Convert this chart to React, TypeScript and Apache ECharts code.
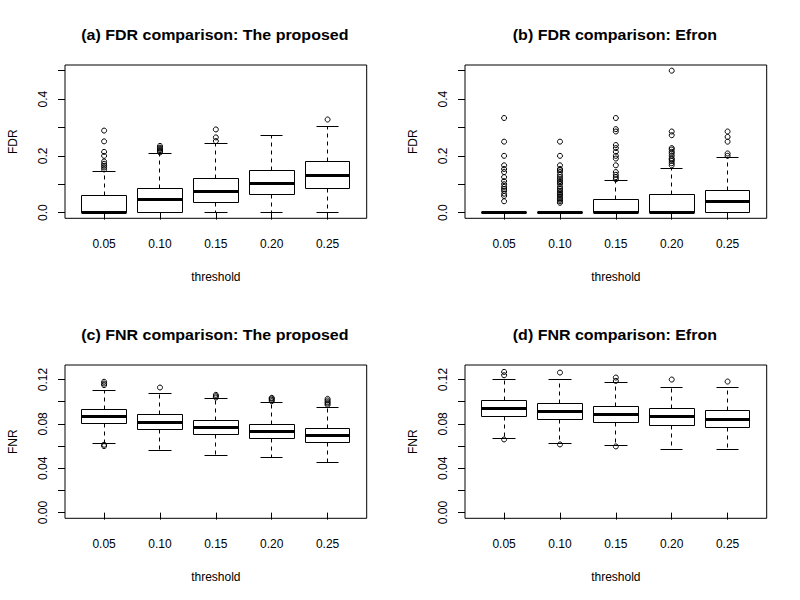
import React, { useEffect, useRef } from "react";
import * as echarts from "echarts";

// ---------- data ----------
const thresholds = ["0.05", "0.10", "0.15", "0.20", "0.25"];

// [lower whisker, Q1, median, Q3, upper whisker]
const fdrProposedStats = [
  [0, 0, 0, 0.06, 0.145],
  [0, 0, 0.047, 0.085, 0.208],
  [0, 0.035, 0.074, 0.12, 0.2435],
  [0, 0.0635, 0.102, 0.148, 0.272],
  [0, 0.085, 0.131, 0.18, 0.3035],
];
const fdrProposedOutliers = [
  [0.152, 0.159, 0.165, 0.172, 0.18, 0.2, 0.214, 0.251, 0.289],
  [0.212, 0.216, 0.22, 0.225, 0.229, 0.235],
  [0.252, 0.265, 0.293],
  [],
  [0.328],
];

const fdrEfronStats = [
  [0, 0, 0, 0, 0],
  [0, 0, 0, 0, 0],
  [0, 0, 0, 0.046, 0.113],
  [0, 0, 0, 0.0635, 0.156],
  [0, 0, 0.039, 0.078, 0.194],
];
const fdrEfronOutliers = [
  [0.04, 0.0588, 0.0667, 0.0769, 0.0833, 0.0909, 0.1, 0.1111, 0.125, 0.1429, 0.1538, 0.1667, 0.2, 0.25, 0.3333],
  [0.0345, 0.04, 0.0455, 0.05, 0.0556, 0.0625, 0.0667, 0.0714, 0.0769, 0.0833, 0.0909, 0.1, 0.1053, 0.1111,
    0.1176, 0.125, 0.1333, 0.1429, 0.15, 0.1538, 0.1667, 0.2, 0.25],
  [0.1176, 0.125, 0.1333, 0.1429, 0.1667, 0.1905, 0.2, 0.2143, 0.2273, 0.2381, 0.2857, 0.2941, 0.3333],
  [0.1667, 0.1739, 0.1818, 0.1875, 0.1905, 0.2, 0.2083, 0.2143, 0.2222, 0.2273, 0.2727, 0.2857, 0.5],
  [0.2, 0.2083, 0.25, 0.2667, 0.2857],
];

const fnrProposedStats = [
  [0.0624, 0.0804, 0.087, 0.093, 0.11],
  [0.0561, 0.075, 0.0813, 0.0885, 0.1074],
  [0.0516, 0.0705, 0.0768, 0.0831, 0.1029],
  [0.0498, 0.0669, 0.0732, 0.0795, 0.0993],
  [0.0453, 0.0633, 0.0696, 0.0759, 0.0948],
];
const fnrProposedOutliers = [
  [0.06, 0.0612, 0.115, 0.1164, 0.118],
  [0.1128],
  [0.1038, 0.105, 0.1062],
  [0.1005, 0.1017, 0.1029, 0.1035],
  [0.0972, 0.0984, 0.0996, 0.1011, 0.1026],
];

const fnrEfronStats = [
  [0.0669, 0.0867, 0.0939, 0.1011, 0.12],
  [0.0624, 0.084, 0.0912, 0.0984, 0.12],
  [0.0606, 0.0813, 0.0885, 0.0957, 0.1173],
  [0.057, 0.0786, 0.0867, 0.0939, 0.1128],
  [0.057, 0.0768, 0.084, 0.0921, 0.1128],
];
const fnrEfronOutliers = [
  [0.066, 0.1239, 0.1269],
  [0.0615, 0.1263],
  [0.0597, 0.1188, 0.1218],
  [0.12],
  [0.1182],
];

const titles = [
  "(a) FDR comparison: The proposed",
  "(b) FDR comparison: Efron",
  "(c) FNR comparison: The proposed",
  "(d) FNR comparison: Efron",
];
const yNames = ["FDR", "FDR", "FNR", "FNR"];
const xName = "threshold";

const fdrTicks = [0, 0.1, 0.2, 0.3, 0.4, 0.5];
const fdrLabels = [0, 0.2, 0.4];
const fnrTicks = [0, 0.02, 0.04, 0.06, 0.08, 0.1, 0.12];
const fnrLabels = [0, 0.04, 0.08, 0.12];

// ---------- layout ----------
const FONT = "'Liberation Sans', Arial, Helvetica, sans-serif";
const GRID_W = 301.7;
const GRID_H = 153.3;
const panelPos = [
  [65, 65],
  [465, 65],
  [65, 365],
  [465, 365],
];

const px = (v: number) => Math.floor(v) + 0.5;

function renderBox(params: any, api: any) {
  const x = api.value(0);
  const mn = api.value(1);
  const q1 = api.value(2);
  const md = api.value(3);
  const q3 = api.value(4);
  const mx = api.value(5);
  const hw = 0.4;
  const sw = 0.2;
  const c = (xx: number, yy: number) => {
    const p = api.coord([xx, yy]);
    return [px(p[0]), px(p[1])];
  };
  const children: any[] = [];
  const dash = { stroke: "#000", lineWidth: 1, lineDash: [4, 4], fill: null };
  const solid = { stroke: "#000", lineWidth: 1, fill: null };
  const pQ3 = c(x, q3);
  const pMx = c(x, mx);
  const pQ1 = c(x, q1);
  const pMn = c(x, mn);
  if (mx > q3) {
    children.push({ type: "line", shape: { x1: pQ3[0], y1: pQ3[1], x2: pMx[0], y2: pMx[1] }, style: dash });
  }
  if (mn < q1) {
    children.push({ type: "line", shape: { x1: pQ1[0], y1: pQ1[1], x2: pMn[0], y2: pMn[1] }, style: dash });
  }
  const sTL = c(x - sw, mx);
  const sTR = c(x + sw, mx);
  children.push({ type: "line", shape: { x1: sTL[0], y1: sTL[1], x2: sTR[0], y2: sTR[1] }, style: solid });
  const sBL = c(x - sw, mn);
  const sBR = c(x + sw, mn);
  children.push({ type: "line", shape: { x1: sBL[0], y1: sBL[1], x2: sBR[0], y2: sBR[1] }, style: solid });
  const tl = c(x - hw, q3);
  const br = c(x + hw, q1);
  children.push({
    type: "rect",
    shape: { x: tl[0], y: tl[1], width: br[0] - tl[0], height: br[1] - tl[1] },
    style: { stroke: "#000", lineWidth: 1, fill: "none" },
  });
  const mL = c(x - hw, md);
  const mR = c(x + hw, md);
  children.push({
    type: "line",
    shape: { x1: mL[0], y1: mL[1], x2: mR[0], y2: mR[1] },
    style: { stroke: "#000", lineWidth: 3, lineCap: "butt", fill: null },
  });
  return { type: "group", children };
}

export default function App() {
  const ref = useRef<HTMLDivElement>(null);

  useEffect(() => {
    if (!ref.current) return;
    const chart = echarts.init(ref.current, null, { renderer: "svg" });

    const statsList = [fdrProposedStats, fdrEfronStats, fnrProposedStats, fnrEfronStats];
    const outlierList = [fdrProposedOutliers, fdrEfronOutliers, fnrProposedOutliers, fnrEfronOutliers];

    const grids: any[] = [];
    const xAxes: any[] = [];
    const yAxes: any[] = [];
    const series: any[] = [];
    const graphics: any[] = [];

    const catIdx = thresholds.map((_, i) => i + 1);

    for (let k = 0; k < 4; k++) {
      const [left, top] = panelPos[k];
      const isFdr = k < 2;
      grids.push({
        left,
        top,
        width: GRID_W,
        height: GRID_H,
        show: true,
        borderColor: "#000",
        borderWidth: 1,
        backgroundColor: "transparent",
        containLabel: false,
      });
      xAxes.push({
        type: "value",
        gridIndex: k,
        min: 0.3,
        max: 5.7,
        axisLine: { show: false },
        splitLine: { show: false },
        axisTick: { show: true, length: 7, inside: false, customValues: catIdx, lineStyle: { color: "#000" } },
        axisLabel: {
          customValues: catIdx,
          margin: 19.5,
          color: "#000",
          fontSize: 12,
          fontFamily: FONT,
          formatter: (v: number) => thresholds[Math.round(v) - 1] ?? "",
        },
        name: xName,
        nameLocation: "middle",
        nameGap: 52.5,
        nameTextStyle: { color: "#000", fontSize: 12, fontFamily: FONT },
      });
      yAxes.push({
        type: "value",
        gridIndex: k,
        min: isFdr ? -0.02 : -0.00512,
        max: isFdr ? 0.52 : 0.13312,
        axisLine: { show: false },
        splitLine: { show: false },
        axisTick: {
          show: true,
          length: 7,
          inside: false,
          customValues: isFdr ? fdrTicks : fnrTicks,
          lineStyle: { color: "#000" },
        },
        axisLabel: {
          customValues: isFdr ? fdrLabels : fnrLabels,
          rotate: 90,
          margin: 16,
          color: "#000",
          fontSize: 12,
          fontFamily: FONT,
          formatter: (v: number) => v.toFixed(isFdr ? 1 : 2),
        },
        name: yNames[k],
        nameLocation: "middle",
        nameGap: 46,
        nameTextStyle: { color: "#000", fontSize: 12, fontFamily: FONT },
      });
      series.push({
        type: "custom",
        xAxisIndex: k,
        yAxisIndex: k,
        renderItem: renderBox,
        encode: { x: 0, y: [1, 2, 3, 4, 5] },
        data: statsList[k].map((s, i) => [i + 1, ...s]),
        clip: true,
        z: 2,
      });
      series.push({
        type: "scatter",
        xAxisIndex: k,
        yAxisIndex: k,
        symbol: "circle",
        symbolSize: 5,
        itemStyle: { color: "rgba(0,0,0,0)", borderColor: "#000", borderWidth: 1, opacity: 1 },
        data: outlierList[k].flatMap((vals, i) => vals.map((v) => [i + 1, v])),
        z: 3,
        emphasis: { disabled: true },
      });
      graphics.push({
        type: "text",
        x: left + GRID_W / 2 - 1,
        y: top - 30,
        scaleX: 1.11,
        style: {
          text: titles[k],
          font: `bold 14.4px ${FONT}`,
          fill: "#000",
          textAlign: "center",
          textVerticalAlign: "middle",
        },
      });
    }

    chart.setOption({
      animation: false,
      backgroundColor: "#fff",
      grid: grids,
      xAxis: xAxes,
      yAxis: yAxes,
      series,
      graphic: graphics,
    });

    return () => {
      chart.dispose();
    };
  }, []);

  return (
    <div
      ref={ref}
      style={{ position: "fixed", left: 0, top: 0, width: 800, height: 600, background: "#fff" }}
    />
  );
}
